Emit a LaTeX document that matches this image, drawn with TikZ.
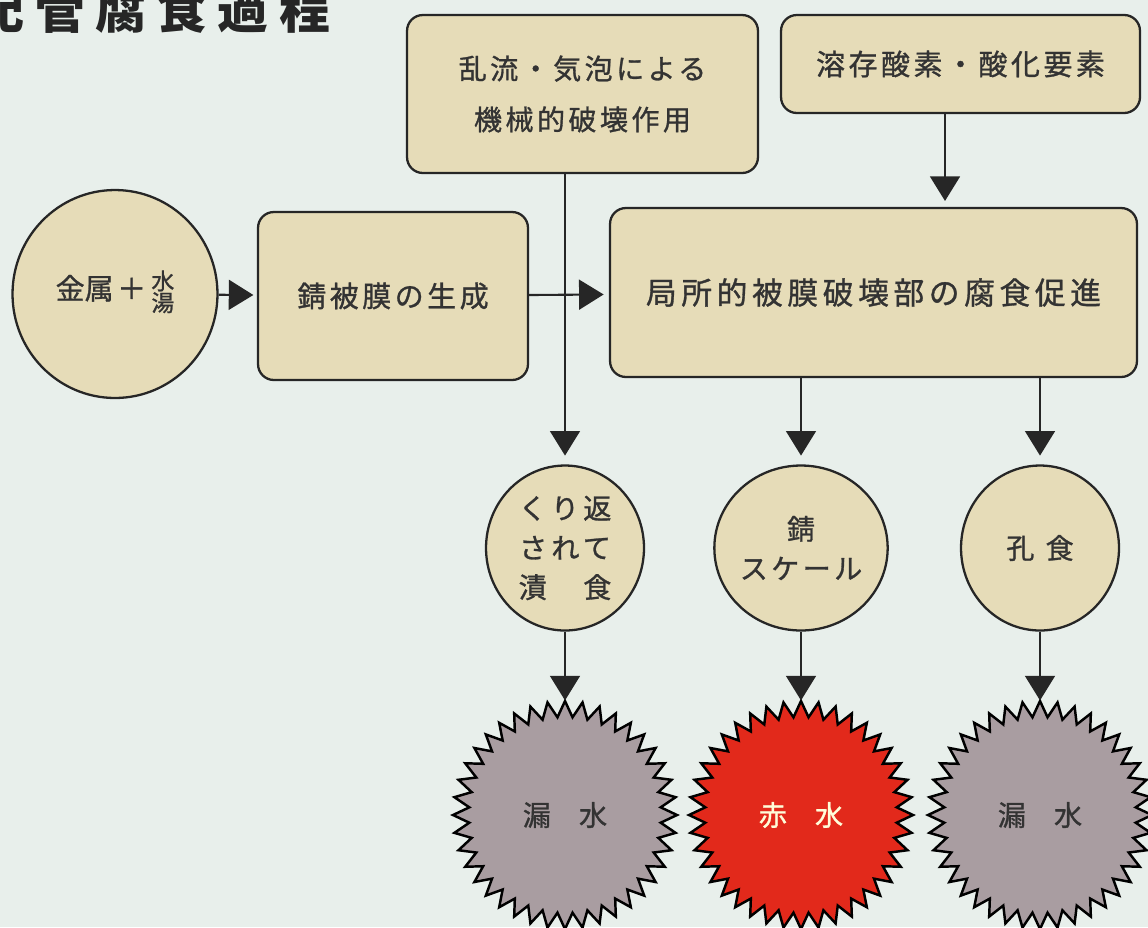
\documentclass[tikz,border=0pt]{standalone}
\usepackage{fontspec}
\setmainfont{Noto Sans CJK JP}[FakeBold=1]
\newfontfamily\jps{Noto Sans CJK JP}[LetterSpace=12,FakeBold=1]
\newfontfamily\jpl{Noto Sans CJK JP}[LetterSpace=15,FakeBold=1]
\newfontfamily\jpt{Noto Sans CJK JP}[LetterSpace=20]
\usetikzlibrary{arrows.meta,shapes.geometric}
\definecolor{bgc}{HTML}{E8EFEB}
\definecolor{boxc}{HTML}{E6DCB8}
\definecolor{linec}{HTML}{262626}
\definecolor{txtc}{HTML}{333333}
\definecolor{grayst}{HTML}{A99DA1}
\definecolor{redst}{HTML}{E2291B}
\tikzset{
  boxn/.style={draw=linec, line width=1.3pt, fill=boxc, rounded corners=9pt, align=center, text=txtc, inner sep=0pt},
  circn/.style={ellipse, draw=linec, line width=1.3pt, fill=boxc, align=center, text=txtc, inner sep=0pt},
  arr/.style={draw=linec, line width=1.2pt, -{Triangle[width=17pt,length=14pt]}},
  starn/.style={circle, minimum size=4.5cm, inner sep=0pt, align=center},
}
\begin{document}
\begin{tikzpicture}[x=0.02cm,y=-0.02cm]
\clip (0,0) rectangle (1148,927);
\fill[bgc] (0,0) rectangle (1148,927);
% title
\node[anchor=base west, inner sep=0pt, text=black!85, font={\jpt\bfseries\fontsize{29}{29}\selectfont}] (title) at (-27,28) {配管腐食過程};
% boxes
\node[boxn, minimum width=5.4cm, minimum height=3.36cm, font={\jps\fontsize{16.5}{20}\selectfont}] (film) at (393,296) {錆被膜の生成};
\node[boxn, minimum width=7.02cm, minimum height=3.16cm, font={\jps\fontsize{16}{23}\selectfont}] (mech) at (582.5,94) {乱流・気泡による\\[6pt]機械的破壊作用};
\node[boxn, minimum width=7.18cm, minimum height=1.96cm, font={\jps\fontsize{16.5}{20}\selectfont}] (oxy) at (960.5,64) {溶存酸素・酸化要素};
\node[boxn, minimum width=10.54cm, minimum height=3.38cm, font={\jpl\fontsize{17.5}{20}\selectfont}] (loc) at (873.5,292.5) {局所的被膜破壊部の腐食促進};
% circles
\node[circn, minimum width=4.1cm, minimum height=4.16cm, font={\fontsize{16.5}{20}\selectfont}] (metal) at (115,294) {金属\hspace{2pt}＋\hspace{3pt}{\fontsize{13}{12}\selectfont\begin{tabular}{@{}c@{}}水\\[-2pt]湯\end{tabular}}};
\node[circn, minimum width=3.16cm, minimum height=3.3cm, font={\jpl\fontsize{16}{22.5}\selectfont}] (c1) at (565,548) {くり返\\されて\\漬　食};
\node[circn, minimum width=3.16cm, minimum height=3.3cm, font={\jps\fontsize{16}{22.5}\selectfont}] (c2) at (801,548) {錆\\スケール};
\node[circn, minimum width=3.16cm, minimum height=3.3cm, font={\jps\fontsize{16}{22.5}\selectfont}] (c3) at (1040,548) {孔\hspace{0.4em}食};
% starbursts
\foreach \cx/\fc in {565/grayst, 801/redst, 1040/grayst}{
  \filldraw[fill=\fc, draw=black, line width=1.4pt, line join=miter]
    plot[samples=81, domain=0:360, variable=\t]
    ({\cx+(104+8*cos(40*\t))*cos(\t)}, {815+(106+8*cos(40*\t))*sin(\t)}) -- cycle;
}
\node[starn, text=txtc, font={\fontsize{16}{20}\selectfont}] (s1) at (565,815) {漏\hspace{1em}水};
\node[starn, text=white!85!yellow, font={\fontsize{16}{20}\selectfont}] (s2) at (801,815) {赤\hspace{1em}水};
\node[starn, text=txtc, font={\fontsize{16}{20}\selectfont}] (s3) at (1040,815) {漏\hspace{1em}水};
% connectors
\draw[arr, shorten >=2pt] (metal) -- (film);
\draw[arr, shorten >=3pt] (film) -- (loc);
\draw[arr, shorten >=4pt] (oxy.south -| 945,0) -- (945,208);
\draw[arr, shorten >=5pt] (mech.south -| c1.north) -- (c1.north);
\draw[arr, shorten >=5pt] (loc.south -| c2.north) -- (c2.north);
\draw[arr, shorten >=5pt] (loc.south -| c3.north) -- (c3.north);
\draw[arr, shorten >=1pt] (c1.south) -- (s1.north);
\draw[arr, shorten >=1pt] (c2.south) -- (s2.north);
\draw[arr, shorten >=1pt] (c3.south) -- (s3.north);
\end{tikzpicture}
\end{document}
